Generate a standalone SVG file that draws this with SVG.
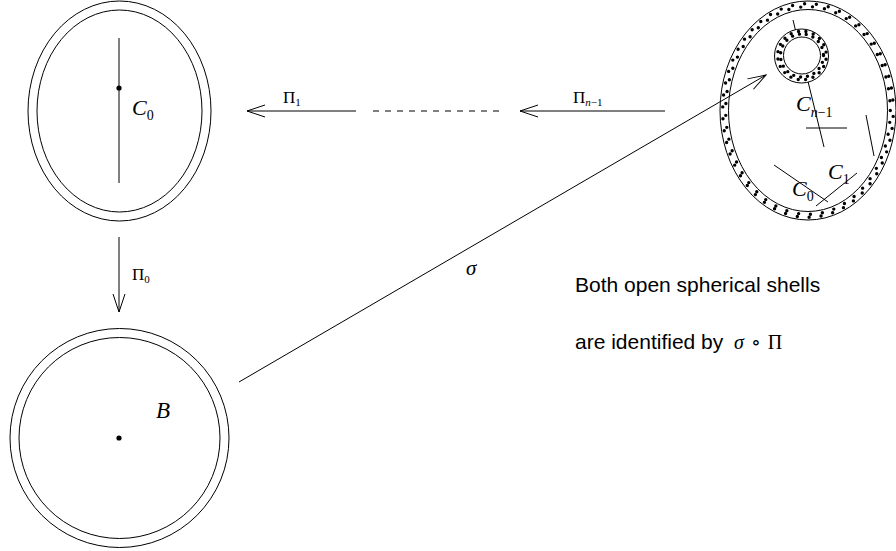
<svg xmlns="http://www.w3.org/2000/svg" width="896" height="551" viewBox="0 0 896 551">
<style>
.ln{fill:none;stroke:#000;stroke-width:1}
.wh{fill:#fff;stroke:#000;stroke-width:1}
.dot{fill:#000}
.dots{fill:none;stroke:#000;stroke-width:3.4;stroke-linecap:round}
.m{font-family:"Liberation Serif","DejaVu Serif",serif;font-style:italic;fill:#000}
.g{font-family:"Liberation Serif","DejaVu Serif",serif;fill:#000}
.s{font-family:"Liberation Sans",Arial,sans-serif;fill:#000;font-size:21px}
</style>
<defs>
<marker id="ah" markerUnits="userSpaceOnUse" orient="auto" overflow="visible" markerWidth="20" markerHeight="14" refX="0" refY="0" viewBox="-20 -7 20 14">
<path d="M-18,-6 L0,0 L-18,6" fill="none" stroke="#000" stroke-width="1"/>
</marker>
</defs>
<rect width="896" height="551" fill="#fff"/>

<g id="node-top">
<ellipse class="ln" cx="119.5" cy="111" rx="91.5" ry="110"/>
<ellipse class="ln" cx="119.5" cy="111" rx="82.5" ry="101"/>
<line class="ln" x1="119" y1="38" x2="119" y2="183"/>
<circle class="dot" cx="119" cy="88" r="2.6"/>
<text class="m" x="132" y="115" font-size="22">C<tspan font-style="normal" font-size="14" dy="5">0</tspan></text>
</g>

<g id="node-B">
<circle class="ln" cx="119.5" cy="438" r="109.5"/>
<circle class="ln" cx="119.5" cy="438" r="100.5"/>
<circle class="dot" cx="119" cy="438" r="2.6"/>
<text class="m" x="156" y="418" font-size="23">B</text>
</g>

<g id="node-right">
<line class="ln" x1="793" y1="20" x2="824" y2="147"/>
<ellipse class="ln" cx="808" cy="110.5" rx="88" ry="109.5"/>
<ellipse class="ln" cx="808" cy="110.5" rx="79.5" ry="101"/>
<ellipse class="dots" cx="808" cy="110.5" rx="82.3" ry="103.8" stroke-dasharray="0 12"/>
<ellipse class="dots" cx="808" cy="110.5" rx="85.3" ry="106.8" stroke-dasharray="0 12" stroke-dashoffset="6"/>
<circle class="wh" cx="801.5" cy="56" r="27"/>
<circle class="ln" cx="802" cy="55.5" r="18.5"/>
<circle class="dots" cx="802" cy="55.5" r="21.5" stroke-dasharray="0 7" stroke-width="3"/>
<circle class="dots" cx="802" cy="55.5" r="24.3" stroke-dasharray="0 7.6" stroke-dashoffset="3.8" stroke-width="3"/>
<line class="ln" x1="806" y1="128" x2="847" y2="128"/>
<line class="ln" x1="866" y1="115" x2="874" y2="156"/>
<line class="ln" x1="774" y1="165" x2="828" y2="202"/>
<line class="ln" x1="816" y1="206" x2="857" y2="173"/>
<text class="m" x="796" y="111" font-size="22">C<tspan font-size="14" dy="6">n</tspan><tspan font-style="normal" font-size="14">−1</tspan></text>
<text class="m" x="828" y="179" font-size="22">C<tspan font-style="normal" font-size="14" dy="5">1</tspan></text>
<text class="m" x="792" y="196" font-size="22">C<tspan font-style="normal" font-size="14" dy="5">0</tspan></text>
</g>

<g id="connectors">
<line class="ln" x1="119" y1="237" x2="119" y2="312" marker-end="url(#ah)"/>
<line class="ln" x1="356" y1="111" x2="247" y2="111" marker-end="url(#ah)"/>
<line class="ln" x1="373" y1="111" x2="502" y2="111" stroke-dasharray="6 6" stroke="#444"/>
<line class="ln" x1="665" y1="111" x2="520" y2="111" marker-end="url(#ah)"/>
<line class="ln" x1="239" y1="382" x2="766" y2="75" marker-end="url(#ah)"/>
</g>

<g id="labels">
<text class="g" x="132" y="280" font-size="17">Π<tspan font-size="11" dy="3">0</tspan></text>
<text class="g" x="283" y="103" font-size="17">Π<tspan font-size="11" dy="3">1</tspan></text>
<text class="g" x="573" y="103" font-size="17">Π<tspan font-size="11" dy="3" font-style="italic">n</tspan><tspan font-size="11">−1</tspan></text>
<text class="m" x="466" y="275" font-size="21">σ</text>
<text class="s" x="575" y="292">Both open spherical shells</text>
<text class="s" x="575" y="349">are identified by <tspan class="m" font-size="20" dx="5">σ</tspan><tspan class="g" font-size="20" dx="7">∘</tspan><tspan class="g" font-size="20" dx="7">Π</tspan></text>
</g>
</svg>
